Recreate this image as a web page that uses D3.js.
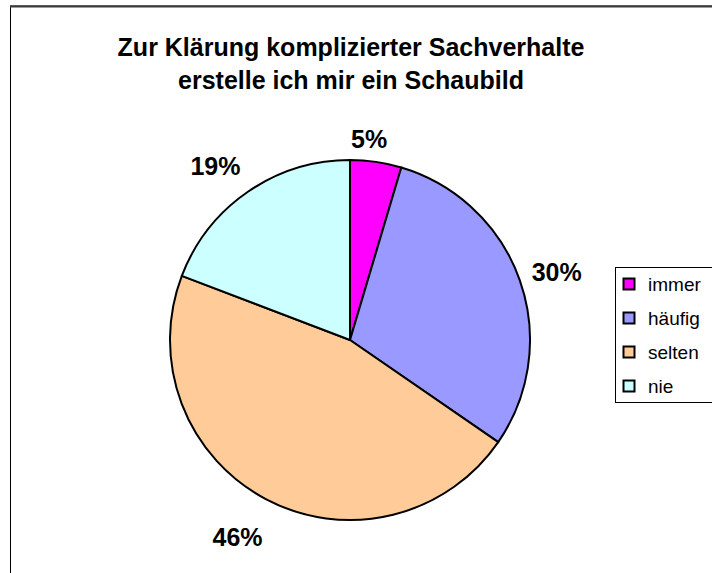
<!DOCTYPE html>
<html>
<head>
<meta charset="utf-8">
<script src="https://cdn.jsdelivr.net/npm/d3@7"></script>
<style>
  html, body { margin: 0; padding: 0; background: #fff; }
  svg { display: block; }
</style>
</head>
<body>
<svg id="chart" width="712" height="573"></svg>
<script>
// ---- data ----
const categories = ["immer", "häufig", "selten", "nie"];
const values = [4.6, 30.0, 46.2, 19.2];          // percent shares
const labels = ["5%", "30%", "46%", "19%"];
const colors = ["#FF00FF", "#9999FF", "#FFCC99", "#CCFFFF"];
const titleLines = ["Zur Klärung komplizierter Sachverhalte", "erstelle ich mir ein Schaubild"];

// ---- layout ----
const W = 712, H = 573;
const cx = 350, cy = 340, R = 180;
const font = "Arial, 'Liberation Sans', sans-serif";

const svg = d3.select("#chart");

// chart area border (extends past the right / bottom edges)
svg.append("rect")
  .attr("x", 10.5).attr("y", 6).attr("width", 760).attr("height", 620)
  .attr("fill", "#fff").attr("stroke", "#000").attr("stroke-width", 1);
svg.append("line")
  .attr("x1", 10).attr("x2", W).attr("y1", 6.5).attr("y2", 6.5)
  .attr("stroke", "#3a3a3a").attr("stroke-width", 2);

// title
const title = svg.append("text")
  .attr("text-anchor", "middle")
  .attr("font-family", font).attr("font-weight", "bold").attr("font-size", 25)
  .attr("fill", "#000");
title.selectAll("tspan").data(titleLines).join("tspan")
  .attr("x", 351).attr("y", (d, i) => 56 + i * 33)
  .text(d => d);

// pie
const pie = d3.pie().sort(null).value(d => d)(values);
const arc = d3.arc().innerRadius(0).outerRadius(R);
const g = svg.append("g").attr("transform", `translate(${cx},${cy})`);

g.selectAll("path").data(pie).join("path")
  .attr("d", arc)
  .attr("fill", (d, i) => colors[i])
  .attr("stroke", "#000").attr("stroke-width", 2)
  .attr("stroke-linejoin", "round");

// data labels: outside the pie, text box pushed outward from its mid angle
const labelArc = d3.arc().innerRadius(R + 10).outerRadius(R + 10);
const labelNudge = [[-12, 6], [3, 2], [-12, 12], [-12, -2]];
g.selectAll("text.lbl").data(pie).join("text")
  .attr("class", "lbl")
  .attr("font-family", font).attr("font-weight", "bold").attr("font-size", 25)
  .attr("text-anchor", "middle")
  .attr("fill", "#000")
  .attr("transform", (d, i) => {
    const a = (d.startAngle + d.endAngle) / 2;
    const [x, y] = labelArc.centroid(d);
    const w = 52, h = 18;
    const px = x + Math.sin(a) * w / 2 + labelNudge[i][0];
    const py = y - Math.cos(a) * (h / 2 + 10) + labelNudge[i][1];
    return `translate(${px},${py + h / 2})`;
  })
  .text((d, i) => labels[i]);

// legend
const lg = svg.append("g");
lg.append("rect")
  .attr("x", 615.5).attr("y", 267.5).attr("width", 120).attr("height", 135)
  .attr("fill", "#fff").attr("stroke", "#000").attr("stroke-width", 1);
const items = lg.selectAll("g.item").data(categories).join("g")
  .attr("class", "item")
  .attr("transform", (d, i) => `translate(623, ${284 + i * 34})`);
items.append("rect")
  .attr("x", 0.5).attr("y", -5.5).attr("width", 11).attr("height", 11)
  .attr("fill", (d, i) => colors[i])
  .attr("stroke", "#000").attr("stroke-width", 2);
items.append("text")
  .attr("x", 25).attr("y", 6.5)
  .attr("font-family", font).attr("font-size", 19)
  .attr("fill", "#000")
  .text(d => d);
</script>
</body>
</html>
